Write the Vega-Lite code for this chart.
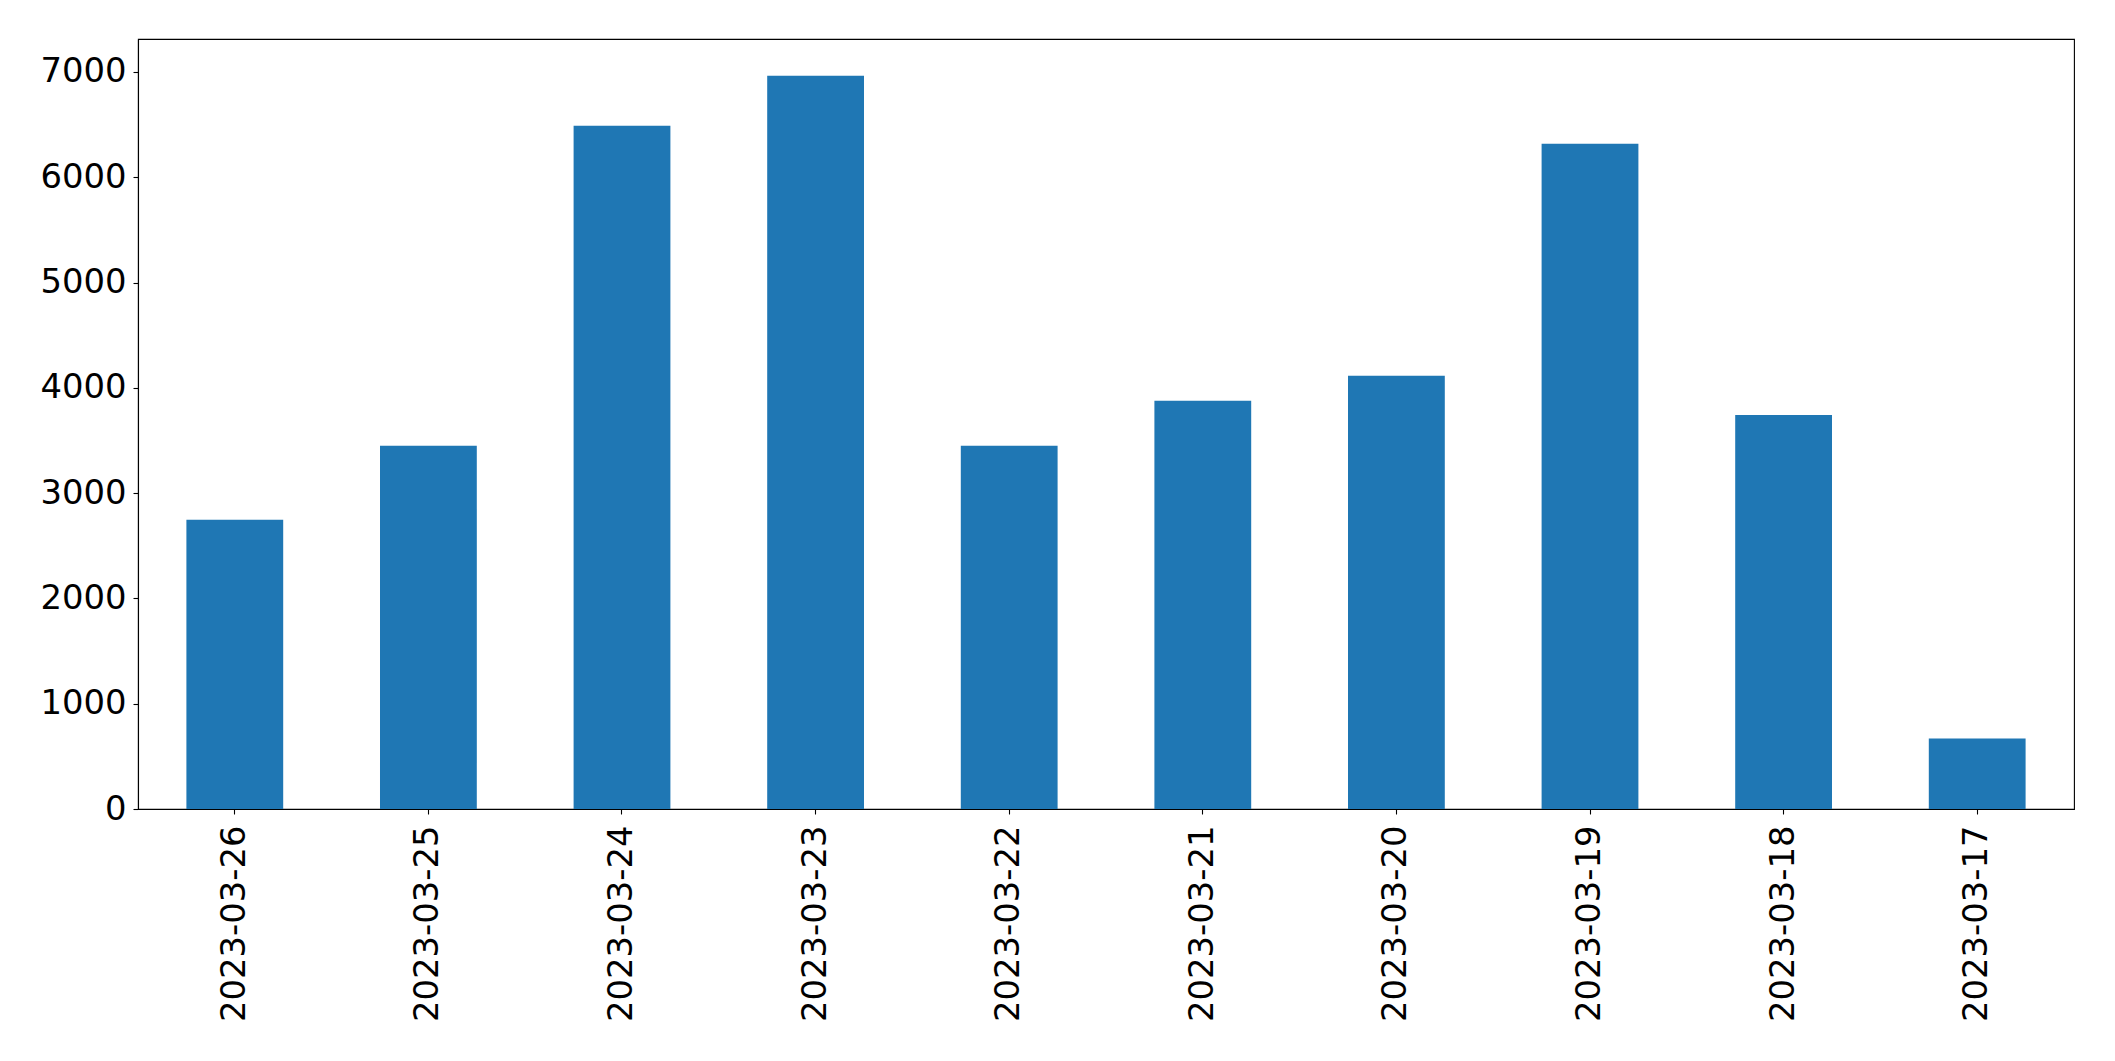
{
  "$schema": "https://vega.github.io/schema/vega-lite/v6.json",
  "autosize": "none",
  "padding": {"left": 138, "top": 39, "right": 41, "bottom": 252},
  "width": 1936,
  "height": 770,
  "background": "white",
  "config": {
    "view": {"stroke": "black", "strokeWidth": 1.1},
    "font": "DejaVu Sans",
    "axis": {"labelFont": "DejaVu Sans", "labelColor": "black", "domainColor": "black", "tickColor": "black", "domainWidth": 1.1, "tickWidth": 1.1, "grid": false, "labelLimit": 0}
  },
  "data": {
    "values": [
      {"date": "2023-03-26", "count": 2748},
      {"date": "2023-03-25", "count": 3451},
      {"date": "2023-03-24", "count": 6490},
      {"date": "2023-03-23", "count": 6965},
      {"date": "2023-03-22", "count": 3451},
      {"date": "2023-03-21", "count": 3878},
      {"date": "2023-03-20", "count": 4115},
      {"date": "2023-03-19", "count": 6319},
      {"date": "2023-03-18", "count": 3743},
      {"date": "2023-03-17", "count": 670}
    ]
  },
  "mark": {"type": "bar", "color": "#1f77b4"},
  "encoding": {
    "x": {
      "field": "date",
      "type": "nominal",
      "sort": null,
      "scale": {"paddingInner": 0.5, "paddingOuter": 0.25},
      "axis": {"title": null, "labelAngle": -90, "labelFontSize": 33.8, "labelPadding": 11, "tickSize": 5, "labelBaseline": "middle", "labelAlign": "right", "labelLimit": 0}
    },
    "y": {
      "field": "count",
      "type": "quantitative",
      "scale": {"domain": [0, 7313], "nice": false},
      "axis": {"title": null, "values": [0, 1000, 2000, 3000, 4000, 5000, 6000, 7000], "format": "d", "labelFontSize": 33.8, "labelPadding": 7, "tickSize": 5}
    }
  }
}
